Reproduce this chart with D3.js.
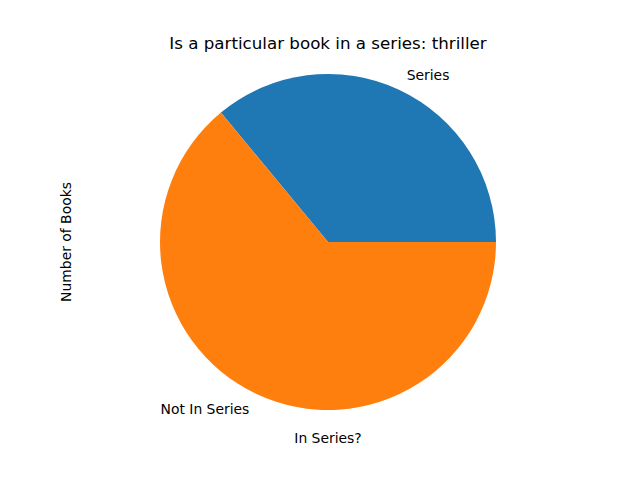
<!DOCTYPE html>
<html><head><meta charset="utf-8">
<script src="https://cdn.jsdelivr.net/npm/d3@7"></script>
<style>body{margin:0;background:#fff}svg{display:block}text{font-family:"DejaVu Sans",sans-serif;fill:#000}</style>
</head><body>
<script>
const categories = ["Series", "Not In Series"];
const values = [36, 64];
const colors = ["#1f77b4", "#ff7f0e"];
const title = "Is a particular book in a series: thriller";
const xLabel = "In Series?";
const yLabel = "Number of Books";

const W = 640, H = 480, cx = 328, cy = 242, r = 168;
const svg = d3.select("body").append("svg").attr("width", W).attr("height", H);

// matplotlib: start at 0 deg (3 o'clock), counterclockwise
const total = d3.sum(values);
const toRad = d3.scaleLinear().domain([0, total]).range([0, 2 * Math.PI]);
let acc = 0;
const slices = values.map((v, i) => {
  const a0 = toRad(acc); acc += v; const a1 = toRad(acc);
  return {i, a0, a1};
});
// convert math angle (ccw from +x) to d3 angle (cw from 12 o'clock)
const conv = a => Math.PI / 2 - a;
const arc = d3.arc().innerRadius(0).outerRadius(r);
const g = svg.append("g").attr("transform", `translate(${cx},${cy})`);
g.selectAll("path").data(slices).join("path")
  .attr("d", d => arc({startAngle: conv(d.a1), endAngle: conv(d.a0)}))
  .attr("fill", d => colors[d.i]);

g.selectAll("text.lbl").data(slices).join("text").attr("class", "lbl")
  .attr("x", d => 1.1 * r * Math.cos((d.a0 + d.a1) / 2))
  .attr("y", d => -1.1 * r * Math.sin((d.a0 + d.a1) / 2))
  .attr("text-anchor", d => Math.cos((d.a0 + d.a1) / 2) >= 0 ? "start" : "end")
  .attr("dominant-baseline", "central")
  .style("font-size", "13.9px")
  .text(d => categories[d.i]);

svg.append("text").attr("x", cx).attr("y", 49).attr("text-anchor", "middle")
  .style("font-size", "16.7px").text(title);
svg.append("text").attr("x", cx).attr("y", 438).attr("text-anchor", "middle")
  .attr("dominant-baseline", "central").style("font-size", "13.9px").text(xLabel);
svg.append("text").attr("transform", `translate(66,${cy}) rotate(-90)`).attr("text-anchor", "middle")
  .attr("dominant-baseline", "central").style("font-size", "13.9px").text(yLabel);
</script>
</body></html>
